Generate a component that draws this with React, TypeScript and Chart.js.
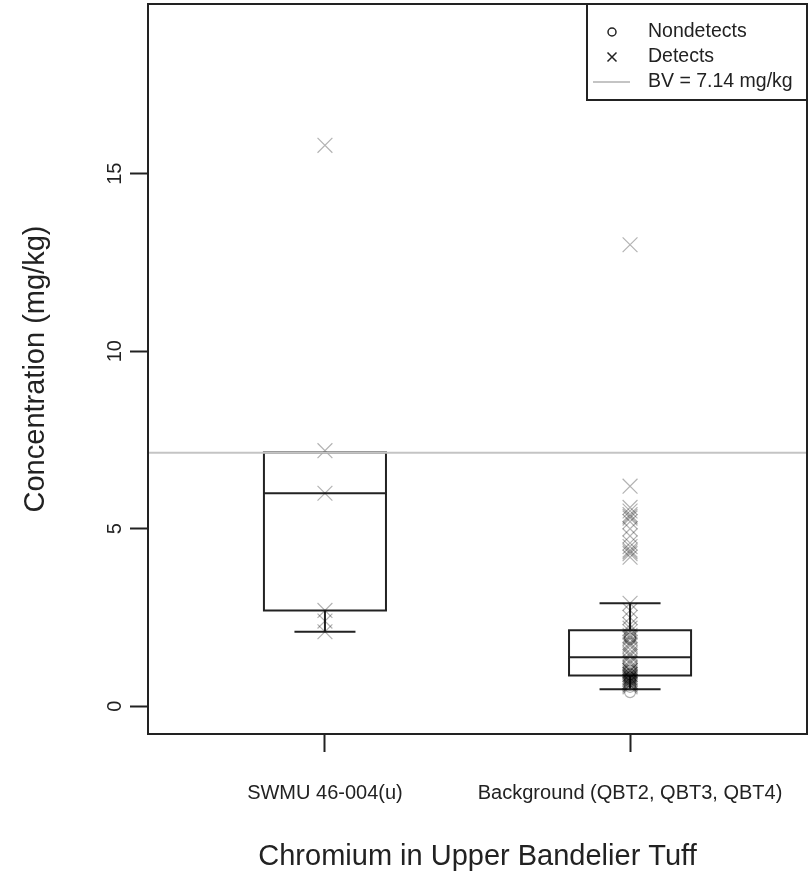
import { useEffect, useRef } from 'react';
import { Chart, registerables } from 'chart.js';

Chart.register(...registerables);

// Groups along the x axis
const categories = ['SWMU 46-004(u)', 'Background (QBT2, QBT3, QBT4)'];

// Box-and-whisker summary per group (mg/kg)
const whiskerLow = [2.1, 0.48];
const boxQ1 = [2.7, 0.87];
const boxMedian = [6.0, 1.38];
const boxQ3 = [7.15, 2.14];
const whiskerHigh = [7.15, 2.9];

// Individual results (mg/kg)
const swmuDetects = [15.8, 7.2, 6.0, 2.7, 2.4, 2.1];
const swmuNondetects: number[] = [];
const bgDetects = [
  13.0, 6.2, 5.6, 5.5, 5.4, 5.35, 5.3, 5.2, 5.0, 4.8, 4.6, 4.5, 4.4, 4.35, 4.3, 4.2,
  2.9, 2.7, 2.5, 2.3, 2.2, 2.1, 2.0, 1.95, 1.9, 1.8, 1.75, 1.7, 1.6, 1.5, 1.45, 1.4,
  1.3, 1.25, 1.2, 1.1, 1.05, 1.0, 1.0, 0.95, 0.9, 0.9, 0.85, 0.8, 0.8, 0.75, 0.7,
  0.7, 0.65, 0.6, 1.0, 0.9, 0.85, 0.8, 0.75, 0.7, 0.65, 0.6, 0.55,
];
const bgNondetects = [2.05, 1.95, 1.9, 1.0, 0.9, 0.8, 0.75, 0.7, 0.6, 0.55, 0.4];

// Background value
const bvValue = 7.14;
const bvLabel = 'BV = 7.14 mg/kg';

const yTicks = [0, 5, 10, 15];

const FONT = '"Liberation Sans", Arial, Helvetica, sans-serif';
const INK = '#222';
const MARK = 'rgba(0,0,0,0.3)';
const BV_COLOR = '#c4c4c4';

const toPoints = (group: number, values: number[]) => values.map((v) => ({ x: group, y: v }));

const boxPlugin = {
  id: 'boxes',
  beforeDatasetsDraw(chart: any) {
    const { ctx, scales } = chart;
    const x = scales.x;
    const y = scales.y;
    ctx.save();
    ctx.strokeStyle = INK;
    ctx.lineWidth = 2;
    ctx.lineCap = 'butt';
    categories.forEach((_, i) => {
      const g = i + 1;
      const cx = x.getPixelForValue(g);
      const bl = x.getPixelForValue(g - 0.2);
      const br = x.getPixelForValue(g + 0.2);
      const cl = x.getPixelForValue(g - 0.1);
      const cr = x.getPixelForValue(g + 0.1);
      const yq1 = y.getPixelForValue(boxQ1[i]);
      const yq3 = y.getPixelForValue(boxQ3[i]);
      const ymed = y.getPixelForValue(boxMedian[i]);
      const ylo = y.getPixelForValue(whiskerLow[i]);
      const yhi = y.getPixelForValue(whiskerHigh[i]);
      ctx.fillStyle = '#fff';
      ctx.fillRect(bl, yq3, br - bl, yq1 - yq3);
      ctx.beginPath();
      // box
      ctx.rect(bl, yq3, br - bl, yq1 - yq3);
      // median
      ctx.moveTo(bl, ymed);
      ctx.lineTo(br, ymed);
      // whiskers
      ctx.moveTo(cx, yq1);
      ctx.lineTo(cx, ylo);
      ctx.moveTo(cx, yq3);
      ctx.lineTo(cx, yhi);
      // caps
      ctx.moveTo(cl, ylo);
      ctx.lineTo(cr, ylo);
      ctx.moveTo(cl, yhi);
      ctx.lineTo(cr, yhi);
      ctx.stroke();
    });
    ctx.restore();
  },
  afterDraw(chart: any) {
    const { ctx, chartArea, scales } = chart;
    const y = scales.y;
    ctx.save();
    // frame
    ctx.strokeStyle = INK;
    ctx.lineWidth = 2;
    ctx.strokeRect(chartArea.left, chartArea.top, chartArea.right - chartArea.left, chartArea.bottom - chartArea.top);

    // y tick labels, written along the axis
    ctx.fillStyle = INK;
    ctx.font = `20px ${FONT}`;
    ctx.textAlign = 'center';
    ctx.textBaseline = 'middle';
    yTicks.forEach((v) => {
      ctx.save();
      ctx.translate(chartArea.left - 33, y.getPixelForValue(v));
      ctx.rotate(-Math.PI / 2);
      ctx.fillText(String(v), 0, 0);
      ctx.restore();
    });

    // legend in the top right corner
    const lw = 220;
    const lh = 96;
    const lx = chartArea.right - lw;
    const ly = chartArea.top;
    ctx.fillStyle = '#fff';
    ctx.fillRect(lx, ly, lw, lh);
    ctx.strokeStyle = INK;
    ctx.lineWidth = 2;
    ctx.strokeRect(lx, ly, lw, lh);
    const mx = lx + 25;
    const tx = lx + 61;
    const rows = [ly + 28, ly + 53, ly + 78];
    ctx.lineWidth = 1.5;
    ctx.beginPath();
    ctx.arc(mx, rows[0], 4, 0, Math.PI * 2);
    ctx.stroke();
    ctx.beginPath();
    ctx.moveTo(mx - 4.5, rows[1] - 4.5);
    ctx.lineTo(mx + 4.5, rows[1] + 4.5);
    ctx.moveTo(mx + 4.5, rows[1] - 4.5);
    ctx.lineTo(mx - 4.5, rows[1] + 4.5);
    ctx.stroke();
    ctx.strokeStyle = BV_COLOR;
    ctx.lineWidth = 2;
    ctx.beginPath();
    ctx.moveTo(lx + 6, rows[2]);
    ctx.lineTo(lx + 43, rows[2]);
    ctx.stroke();
    ctx.fillStyle = INK;
    ctx.font = `19.5px ${FONT}`;
    ctx.textAlign = 'left';
    ctx.textBaseline = 'middle';
    ctx.fillText('Nondetects', tx, rows[0]);
    ctx.fillText('Detects', tx, rows[1]);
    ctx.fillText(bvLabel, tx, rows[2]);
    ctx.restore();
  },
};

export default function App() {
  const canvasRef = useRef<HTMLCanvasElement | null>(null);

  useEffect(() => {
    const canvas = canvasRef.current;
    if (!canvas) return;
    const xMin = 0.42;
    const xMax = 2.58;
    const chart = new Chart(canvas, {
      type: 'scatter',
      data: {
        datasets: [
          {
            label: bvLabel,
            type: 'line',
            data: [
              { x: xMin, y: bvValue },
              { x: xMax, y: bvValue },
            ],
            borderColor: BV_COLOR,
            borderWidth: 2,
            pointRadius: 0,
            order: 0,
          },
          {
            label: 'Detects',
            data: [...toPoints(1, swmuDetects), ...toPoints(2, bgDetects)],
            pointStyle: 'crossRot',
            pointRadius: 10.5,
            pointBorderWidth: 1.2,
            borderColor: MARK,
            backgroundColor: MARK,
            order: 1,
          },
          {
            label: 'Nondetects',
            data: [...toPoints(1, swmuNondetects), ...toPoints(2, bgNondetects)],
            pointStyle: 'circle',
            pointRadius: 5.5,
            pointBorderWidth: 1.2,
            borderColor: MARK,
            backgroundColor: 'rgba(0,0,0,0)',
            order: 2,
          },
        ],
      },
      options: {
        animation: false,
        responsive: false,
        maintainAspectRatio: false,
        layout: { autoPadding: false, padding: { top: 4, right: 2, left: 0, bottom: 0 } },
        plugins: {
          legend: { display: false },
          tooltip: { enabled: false },
        },
        scales: {
          x: {
            type: 'linear',
            min: xMin,
            max: xMax,
            afterBuildTicks: (scale: any) => {
              scale.ticks = categories.map((_, i) => ({ value: i + 1 }));
            },
            afterFit: (scale: any) => {
              scale.height = 146;
              scale.paddingLeft = 0;
              scale.paddingRight = 0;
            },
            ticks: {
              autoSkip: false,
              maxRotation: 0,
              minRotation: 0,
              padding: 29,
              color: INK,
              font: { family: FONT, size: 20 },
              callback: (v: any) => categories[Number(v) - 1] ?? '',
            },
            grid: {
              drawOnChartArea: false,
              drawTicks: true,
              tickLength: 18,
              tickWidth: 2,
              tickColor: INK,
            },
            border: { display: false },
            title: {
              display: true,
              text: 'Chromium in Upper Bandelier Tuff',
              color: INK,
              font: { family: FONT, size: 29 },
              padding: { top: 0, bottom: 6 },
            },
          },
          y: {
            type: 'linear',
            min: -0.78,
            max: 19.78,
            afterBuildTicks: (scale: any) => {
              scale.ticks = yTicks.map((v) => ({ value: v }));
            },
            afterFit: (scale: any) => {
              scale.width = 148;
              scale.paddingTop = 0;
              scale.paddingBottom = 0;
            },
            ticks: { display: false },
            grid: {
              drawOnChartArea: false,
              drawTicks: true,
              tickLength: 18,
              tickWidth: 2,
              tickColor: INK,
            },
            border: { display: false },
            title: {
              display: true,
              text: 'Concentration (mg/kg)',
              color: INK,
              font: { family: FONT, size: 29 },
              padding: { top: 19, bottom: 0 },
            },
          },
        },
      },
      plugins: [boxPlugin],
    });
    return () => chart.destroy();
  }, []);

  return (
    <div style={{ position: 'absolute', left: 0, top: 0, width: 809, height: 880, background: '#fff' }}>
      <canvas ref={canvasRef} width={809} height={880} style={{ display: 'block', width: 809, height: 880 }} />
    </div>
  );
}
